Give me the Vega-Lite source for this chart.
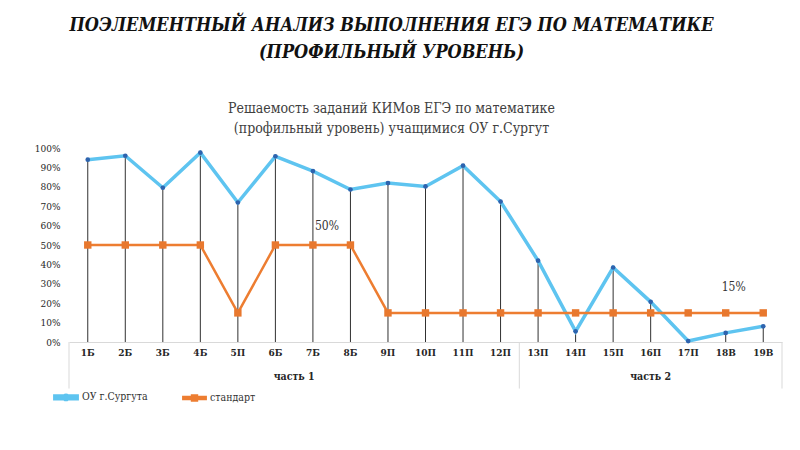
{
  "$schema": "https://vega.github.io/schema/vega-lite/v6.json",
  "autosize": "none",
  "width": 713,
  "height": 194,
  "padding": {"left": 69, "top": 148, "right": 18, "bottom": 108},
  "background": "white",
  "config": {
    "font": "DejaVu Serif Condensed, DejaVu Serif",
    "view": {"stroke": null},
    "legend": {"labelFont": "DejaVu Serif Condensed, DejaVu Serif", "labelFontSize": 10.5, "labelColor": "#333333"}
  },
  "resolve": {"axis": {"y": "independent"}},
  "title": {
    "text": ["ПОЭЛЕМЕНТНЫЙ АНАЛИЗ ВЫПОЛНЕНИЯ ЕГЭ ПО МАТЕМАТИКЕ", "(ПРОФИЛЬНЫЙ УРОВЕНЬ)"],
    "subtitle": ["Решаемость заданий КИМов ЕГЭ по математике", "(профильный уровень) учащимися ОУ г.Сургут"],
    "anchor": "middle",
    "dx": -34,
    "offset": 7,
    "font": "DejaVu Serif Condensed, DejaVu Serif",
    "fontSize": 18,
    "fontStyle": "italic",
    "fontWeight": "bold",
    "lineHeight": 27,
    "color": "#111111",
    "subtitleFont": "DejaVu Serif Condensed, DejaVu Serif",
    "subtitleFontSize": 14,
    "subtitleLineHeight": 20,
    "subtitlePadding": 40,
    "subtitleColor": "#404040"
  },
  "data": {
    "values": [
      {"task": "1Б", "series": "ОУ г.Сургута", "value": 0.94},
      {"task": "2Б", "series": "ОУ г.Сургута", "value": 0.96},
      {"task": "3Б", "series": "ОУ г.Сургута", "value": 0.795},
      {"task": "4Б", "series": "ОУ г.Сургута", "value": 0.976},
      {"task": "5П", "series": "ОУ г.Сургута", "value": 0.719},
      {"task": "6Б", "series": "ОУ г.Сургута", "value": 0.957},
      {"task": "7Б", "series": "ОУ г.Сургута", "value": 0.881},
      {"task": "8Б", "series": "ОУ г.Сургута", "value": 0.786},
      {"task": "9П", "series": "ОУ г.Сургута", "value": 0.819},
      {"task": "10П", "series": "ОУ г.Сургута", "value": 0.802},
      {"task": "11П", "series": "ОУ г.Сургута", "value": 0.909},
      {"task": "12П", "series": "ОУ г.Сургута", "value": 0.724},
      {"task": "13П", "series": "ОУ г.Сургута", "value": 0.419},
      {"task": "14П", "series": "ОУ г.Сургута", "value": 0.055},
      {"task": "15П", "series": "ОУ г.Сургута", "value": 0.384},
      {"task": "16П", "series": "ОУ г.Сургута", "value": 0.207},
      {"task": "17П", "series": "ОУ г.Сургута", "value": 0.005},
      {"task": "18В", "series": "ОУ г.Сургута", "value": 0.047},
      {"task": "19В", "series": "ОУ г.Сургута", "value": 0.081},
      {"task": "1Б", "series": "стандарт", "value": 0.5},
      {"task": "2Б", "series": "стандарт", "value": 0.5},
      {"task": "3Б", "series": "стандарт", "value": 0.5},
      {"task": "4Б", "series": "стандарт", "value": 0.5},
      {"task": "5П", "series": "стандарт", "value": 0.15},
      {"task": "6Б", "series": "стандарт", "value": 0.5},
      {"task": "7Б", "series": "стандарт", "value": 0.5},
      {"task": "8Б", "series": "стандарт", "value": 0.5},
      {"task": "9П", "series": "стандарт", "value": 0.15},
      {"task": "10П", "series": "стандарт", "value": 0.15},
      {"task": "11П", "series": "стандарт", "value": 0.15},
      {"task": "12П", "series": "стандарт", "value": 0.15},
      {"task": "13П", "series": "стандарт", "value": 0.15},
      {"task": "14П", "series": "стандарт", "value": 0.15},
      {"task": "15П", "series": "стандарт", "value": 0.15},
      {"task": "16П", "series": "стандарт", "value": 0.15},
      {"task": "17П", "series": "стандарт", "value": 0.15},
      {"task": "18В", "series": "стандарт", "value": 0.15},
      {"task": "19В", "series": "стандарт", "value": 0.15}
    ]
  },
  "layer": [
    {
      "transform": [{"filter": "datum.series === 'ОУ г.Сургута'"}],
      "mark": {"type": "rule", "color": "#1a1a1a", "strokeWidth": 0.9},
      "encoding": {
        "x": {
          "field": "task",
          "type": "nominal",
          "sort": null,
          "bandPosition": 0.5,
          "scale": {
            "type": "band",
            "paddingInner": 0,
            "paddingOuter": 0,
            "domain": ["1Б", "2Б", "3Б", "4Б", "5П", "6Б", "7Б", "8Б", "9П", "10П", "11П", "12П", "13П", "14П", "15П", "16П", "17П", "18В", "19В"]
          },
          "axis": {
            "title": null,
            "labelAngle": 0,
            "ticks": false,
            "domainColor": "#d9d9d9",
            "labelFont": "DejaVu Serif Condensed, DejaVu Serif",
            "labelFontWeight": "bold",
            "labelFontSize": 10,
            "labelColor": "#262626",
            "labelPadding": 5
          }
        },
        "y": {
          "field": "value",
          "type": "quantitative",
          "scale": {"domain": [0, 1]},
          "axis": {
            "title": null,
            "values": [0, 0.1, 0.2, 0.3, 0.4, 0.5, 0.6, 0.7, 0.8, 0.9, 1],
            "format": ".0%",
            "labelOverlap": false,
            "domain": false,
            "ticks": false,
            "grid": false,
            "labelFont": "DejaVu Serif Condensed, DejaVu Serif",
            "labelFontSize": 10,
            "labelColor": "#262626",
            "labelPadding": 9
          }
        },
        "y2": {"datum": 0}
      }
    },
    {
      "mark": {"type": "line"},
      "encoding": {
        "x": {"field": "task", "type": "nominal", "sort": null, "bandPosition": 0.5},
        "y": {"field": "value", "type": "quantitative", "axis": null},
        "color": {
          "field": "series",
          "type": "nominal",
          "scale": {"domain": ["ОУ г.Сургута", "стандарт"], "range": ["#5EC4F0", "#ED7D31"]},
          "legend": {
            "title": null,
            "orient": "none",
            "legendX": -16,
            "legendY": 236,
            "direction": "horizontal",
            "symbolSize": 500,
            "columnPadding": 30,
            "labelOffset": 3,
            "encode": {
              "symbols": {
                "update": {
                  "shape": {"signal": "datum.value === 'стандарт' ? 'M-1,-0.09H1V0.09H-1Z M-0.22,-0.22H0.22V0.22H-0.22Z' : 'M-1,-0.12H1V0.12H-1Z M0.2,0A0.2,0.2 0 1,1 -0.2,0A0.2,0.2 0 1,1 0.2,0Z'"},
                  "fill": {"signal": "datum.value === 'стандарт' ? '#ED7D31' : '#5EC4F0'"},
                  "strokeWidth": {"value": 0}
                }
              }
            }
          }
        },
        "strokeWidth": {
          "field": "series",
          "type": "nominal",
          "scale": {"domain": ["ОУ г.Сургута", "стандарт"], "range": [3.5, 2.5]},
          "legend": null
        }
      }
    },
    {
      "transform": [{"filter": "datum.series === 'ОУ г.Сургута'"}],
      "mark": {"type": "point", "filled": true, "shape": "circle", "size": 22, "color": "#2E63AE", "opacity": 1},
      "encoding": {
        "x": {"field": "task", "type": "nominal", "sort": null, "bandPosition": 0.5},
        "y": {"field": "value", "type": "quantitative", "axis": null}
      }
    },
    {
      "transform": [{"filter": "datum.series === 'стандарт'"}],
      "mark": {"type": "point", "filled": true, "shape": "square", "size": 55, "color": "#E8782E", "opacity": 1},
      "encoding": {
        "x": {"field": "task", "type": "nominal", "sort": null, "bandPosition": 0.5},
        "y": {"field": "value", "type": "quantitative", "axis": null}
      }
    },
    {
      "transform": [{"filter": "datum.series === 'стандарт' && datum.task === '7Б'"}],
      "mark": {"type": "text", "dx": 14, "dy": -19, "fontSize": 12, "color": "#333333", "font": "DejaVu Serif Condensed, DejaVu Serif"},
      "encoding": {
        "x": {"field": "task", "type": "nominal", "sort": null, "bandPosition": 0.5},
        "y": {"field": "value", "type": "quantitative", "axis": null},
        "text": {"field": "value", "type": "quantitative", "format": ".0%"}
      }
    },
    {
      "transform": [{"filter": "datum.series === 'стандарт' && datum.task === '18В'"}],
      "mark": {"type": "text", "dx": 8, "dy": -26, "fontSize": 12, "color": "#333333", "font": "DejaVu Serif Condensed, DejaVu Serif"},
      "encoding": {
        "x": {"field": "task", "type": "nominal", "sort": null, "bandPosition": 0.5},
        "y": {"field": "value", "type": "quantitative", "axis": null},
        "text": {"field": "value", "type": "quantitative", "format": ".0%"}
      }
    },
    {
      "data": {"values": [{"task": "7Б", "part": "часть 1"}]},
      "mark": {"type": "text", "fontSize": 10.5, "fontWeight": "bold", "color": "#262626", "font": "DejaVu Serif Condensed, DejaVu Serif"},
      "encoding": {
        "x": {"field": "task", "type": "nominal", "sort": null, "bandPosition": 0},
        "y": {"datum": -0.18, "type": "quantitative", "axis": null},
        "text": {"field": "part"}
      }
    },
    {
      "data": {"values": [{"task": "16П", "part": "часть 2"}]},
      "mark": {"type": "text", "fontSize": 10.5, "fontWeight": "bold", "color": "#262626", "font": "DejaVu Serif Condensed, DejaVu Serif"},
      "encoding": {
        "x": {"field": "task", "type": "nominal", "sort": null, "bandPosition": 0.5},
        "y": {"datum": -0.18, "type": "quantitative", "axis": null},
        "text": {"field": "part"}
      }
    },
    {
      "data": {"values": [{"task": "1Б"}, {"task": "13П"}]},
      "mark": {"type": "rule", "color": "#d9d9d9", "strokeWidth": 1},
      "encoding": {
        "x": {"field": "task", "type": "nominal", "sort": null, "bandPosition": 0},
        "y": {"datum": 0, "type": "quantitative", "axis": null},
        "y2": {"datum": -0.24}
      }
    },
    {
      "data": {"values": [{"task": "19В"}]},
      "mark": {"type": "rule", "color": "#d9d9d9", "strokeWidth": 1},
      "encoding": {
        "x": {"field": "task", "type": "nominal", "sort": null, "bandPosition": 1},
        "y": {"datum": 0, "type": "quantitative", "axis": null},
        "y2": {"datum": -0.24}
      }
    }
  ]
}
